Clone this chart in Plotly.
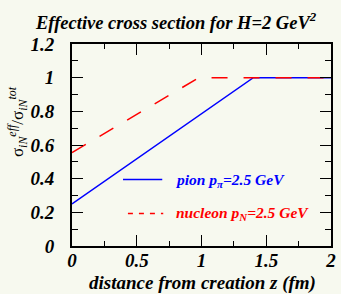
import plotly.graph_objects as go

# data
pion_z = [0.0, 1.4, 2.0]
pion_ratio = [0.25, 1.0, 1.0]
nucleon_z = [0.0, 0.98, 2.0]
nucleon_ratio = [0.555, 1.0, 1.0]
x_ticks = [0, 0.5, 1, 1.5, 2]
x_ticklabels = ["0", "0.5", "1", "1.5", "2"]
y_ticks = [0, 0.2, 0.4, 0.6, 0.8, 1, 1.2]
y_ticklabels = ["0", "0.2", "0.4", "0.6", "0.8", "1", "1.2"]

BG = "#f7f9ef"
FONT = "Liberation Serif"

fig = go.Figure()
fig.add_trace(go.Scatter(x=pion_z, y=pion_ratio, mode="lines",
                         line=dict(color="#0000ff", width=1.5), showlegend=False))
fig.add_trace(go.Scatter(x=nucleon_z, y=nucleon_ratio, mode="lines",
                         line=dict(color="#ff0000", width=1.5, dash="16px,16px"), showlegend=False))

W, H = 341, 294
L, R, T, B = 72, 5, 44, 48

def px_x(p):
    return (p - L) / (W - L - R)

def px_y(p):
    return (H - B - p) / (H - T - B)

axis_common = dict(
    showline=True, linecolor="black", linewidth=2, mirror="allticks",
    ticks="inside", ticklen=11, tickwidth=1.2, tickcolor="black",
    showgrid=False, zeroline=False,
    tickfont=dict(family=FONT, size=19, color="black"),
)

fig.update_xaxes(range=[0, 2], tickvals=x_ticks,
                 ticktext=["<b><i>%s</i></b>" % t for t in x_ticklabels],
                 minor=dict(ticks="inside", ticklen=5, tickwidth=1.2, tickcolor="black", dtick=0.25, showgrid=False),
                 ticklabelstandoff=-4,
                 **axis_common)
fig.update_yaxes(range=[0, 1.2], tickvals=y_ticks,
                 ticktext=["<b><i>%s</i></b>" % t for t in y_ticklabels],
                 minor=dict(ticks="inside", ticklen=6, tickwidth=1.2, tickcolor="black", dtick=0.1, showgrid=False),
                 ticklabelstandoff=12,
                 **axis_common)

annotations = [
    dict(text="<b><i>Effective cross section for H=2 GeV<sup>2</sup></i></b>",
         xref="paper", yref="paper", x=px_x(32), y=px_y(21), xanchor="left", yanchor="middle",
         showarrow=False, font=dict(family=FONT, size=18.5, color="black")),
    dict(text="<b><i>distance from creation z (fm)</i></b>",
         xref="paper", yref="paper", x=px_x(205), y=px_y(283), xanchor="center", yanchor="middle",
         showarrow=False, font=dict(family=FONT, size=19, color="black")),
    dict(text="σ<sub><i>iN</i></sub><sup><i>eff</i></sup>/σ<sub><i>iN</i></sub><sup><i>tot</i></sup>",
         xref="paper", yref="paper", x=px_x(16), y=px_y(122), xanchor="center", yanchor="middle",
         textangle=-90, showarrow=False, font=dict(family=FONT, size=17, color="black")),
    dict(text="<b><i>pion p<sub>π</sub>=2.5 GeV</i></b>",
         xref="paper", yref="paper", x=px_x(175), y=px_y(180), xanchor="left", yanchor="middle",
         showarrow=False, font=dict(family=FONT, size=15.5, color="#0000ff")),
    dict(text="<b><i>nucleon p<sub>N</sub>=2.5 GeV</i></b>",
         xref="paper", yref="paper", x=px_x(176), y=px_y(213), xanchor="left", yanchor="middle",
         showarrow=False, font=dict(family=FONT, size=15.5, color="#ff0000")),
]

shapes = [
    dict(type="line", xref="paper", yref="paper", x0=px_x(124), x1=px_x(164),
         y0=px_y(179.5), y1=px_y(179.5), line=dict(color="#0000ff", width=1.5)),
    dict(type="line", xref="paper", yref="paper", x0=px_x(129), x1=px_x(165),
         y0=px_y(213.5), y1=px_y(213.5), line=dict(color="#ff0000", width=1.5, dash="5px,6px")),
]

fig.update_layout(width=W, height=H, margin=dict(l=L, r=R, t=T, b=B),
                  paper_bgcolor=BG, plot_bgcolor=BG,
                  annotations=annotations, shapes=shapes, showlegend=False)

fig.write_html("out.html", config={"displayModeBar": False},
               post_script="document.body.style.margin='0px';document.body.style.background='%s';" % BG)
